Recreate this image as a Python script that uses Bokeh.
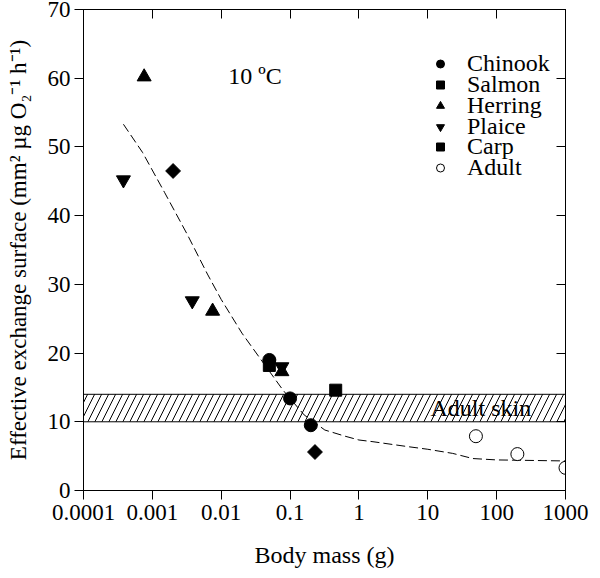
import math
from bokeh.plotting import figure
from bokeh.models import (FixedTicker, CustomJSTickFormatter, LogAxis, LinearAxis,
                          Legend, LegendItem, Label, Range1d)
from bokeh.embed import file_html
from bokeh.resources import INLINE

# ---- data ----
x_ticks = [0.0001, 0.001, 0.01, 0.1, 1, 10, 100, 1000]
x_tick_labels = ["0.0001", "0.001", "0.01", "0.1", "1", "10", "100", "1000"]
y_ticks = [0, 10, 20, 30, 40, 50, 60, 70]

chinook_x = [0.05, 0.1, 0.2]
chinook_y = [19.0, 13.4, 9.5]
salmon_x = [0.05, 0.46]
salmon_y = [18.2, 14.6]
herring_x = [0.00076, 0.0075, 0.076]
herring_y = [60.2, 26.1, 17.3]
plaice_x = [0.00038, 0.0038, 0.076]
plaice_y = [45.2, 27.6, 18.0]
carp_x = [0.002, 0.23]
carp_y = [46.5, 5.6]
adult_x = [50, 200, 1000]
adult_y = [7.9, 5.3, 3.3]

fit_x = [0.00038, 0.00072, 0.0015, 0.0032, 0.0063, 0.01, 0.02, 0.04, 0.079,
         0.16, 0.32, 0.63, 1.0, 1.6, 5, 10, 23, 45, 100, 1000]
fit_y = [53.3, 49.2, 43.4, 37.3, 31.5, 27.8, 22.9, 18.7, 14.6,
         11.0, 8.8, 7.9, 7.35, 7.1, 6.4, 6.0, 5.4, 4.65, 4.45, 4.3]

skin_x = [0.0001, 1000]
skin_low = [10]
skin_high = [14]

legend_labels = ["Chinook", "Salmon", "Herring", "Plaice", "Carp", "Adult"]

FONT = "Liberation Serif"

p = figure(width=592, height=570, x_axis_type="log",
           x_range=Range1d(1e-4, 1e3), y_range=Range1d(0, 70),
           output_backend="svg", toolbar_location=None,
           min_border_left=83, min_border_right=27,
           min_border_top=9, min_border_bottom=79)
p.grid.visible = False
p.outline_line_color = "black"
p.background_fill_color = "white"

# band
p.quad(left=[skin_x[0]], right=[skin_x[1]], bottom=skin_low, top=skin_high,
       fill_color="white", hatch_pattern="/", hatch_scale=14, hatch_weight=1,
       hatch_color="black", line_color="black", line_width=1)

# fitted curve
p.line(fit_x, fit_y, line_dash="9 4", line_width=1, line_color="black")

r_ch = p.scatter(chinook_x, chinook_y, marker="circle", size=13, color="black")
r_sa = p.scatter(salmon_x, salmon_y, marker="square", size=12, color="black")
r_he = p.scatter(herring_x, herring_y, marker="triangle", size=14, color="black")
r_pl = p.scatter(plaice_x, plaice_y, marker="inverted_triangle", size=14, color="black")
r_ca = p.scatter(carp_x, carp_y, marker="square", angle=math.pi / 4, size=10.5, color="black")
r_ad = p.scatter(adult_x, adult_y, marker="circle", size=13, fill_color="white",
                 line_color="black", line_width=1)

# axes
p.xaxis.ticker = FixedTicker(ticks=x_ticks)
p.xaxis.formatter = CustomJSTickFormatter(
    args=dict(tvals=x_ticks, tlabels=x_tick_labels),
    code="""
    for (let i = 0; i < tvals.length; i++) {
        if (Math.abs(Math.log10(tvals[i]) - Math.log10(tick)) < 1e-6) return tlabels[i];
    }
    return '';
    """)
p.yaxis.ticker = FixedTicker(ticks=y_ticks)
for ax in (p.xaxis[0], p.yaxis[0]):
    ax.major_tick_out = 9
    ax.major_tick_in = 0
    ax.minor_tick_out = 0
    ax.minor_tick_in = 0
    ax.axis_line_color = "black"
    ax.major_tick_line_color = "black"
    ax.major_label_text_font = FONT
    ax.major_label_text_font_size = "23px"
    ax.major_label_text_color = "black"
    ax.axis_label_text_font = FONT
    ax.axis_label_text_font_style = "normal"
    ax.axis_label_text_color = "black"
    ax.major_label_standoff = 4

p.xaxis.major_label_standoff = 5
p.xaxis.axis_label = "Body mass (g)"
p.xaxis.axis_label_text_font_size = "24px"
p.xaxis.axis_label_standoff = 19
p.yaxis.axis_label = "Effective exchange surface (mm\u00b2 \u00b5g O\u2082\u207b\u00b9 h\u207b\u00b9)"
p.yaxis.axis_label_text_font_size = "23px"
p.yaxis.axis_label_standoff = 14

blank = CustomJSTickFormatter(code="return '';")
top_ax = LogAxis(ticker=FixedTicker(ticks=x_ticks), formatter=blank,
                 major_tick_in=9, major_tick_out=0,
                 minor_tick_in=0, minor_tick_out=0, major_label_text_font_size="2px",
                 major_label_standoff=0, axis_line_color="black")
p.add_layout(top_ax, "above")
right_ax = LinearAxis(ticker=FixedTicker(ticks=y_ticks), formatter=blank,
                      major_tick_in=9, major_tick_out=0,
                      minor_tick_in=0, minor_tick_out=0, major_label_text_font_size="2px",
                      major_label_standoff=0, axis_line_color="black")
p.add_layout(right_ax, "right")

# annotations
p.add_layout(Label(x=0.031, y=60.3, text="10 \u00baC", text_align="center",
                   text_baseline="middle", text_font=FONT, text_font_size="24px",
                   text_color="black"))
p.add_layout(Label(x=59, y=12, text="Adult skin", text_align="center",
                   text_baseline="middle", text_font=FONT, text_font_size="24px",
                   text_color="black"))

# legend: one compact row per species
row_step = 20.8
renderers = [r_ch, r_sa, r_he, r_pl, r_ca, r_ad]
for i, (lab, rend) in enumerate(zip(legend_labels, renderers)):
    lg = Legend(items=[LegendItem(label=lab, renderers=[rend])],
                location=(347, int(round(412.8 - row_step * i))),
                label_text_font=FONT, label_text_font_size="24px",
                label_text_color="black", glyph_width=20, glyph_height=27,
                label_height=27, spacing=0, padding=0, margin=0,
                border_line_color=None, background_fill_alpha=0,
                label_standoff=17)
    p.add_layout(lg)

open("out.html", "w").write(file_html(p, INLINE))
